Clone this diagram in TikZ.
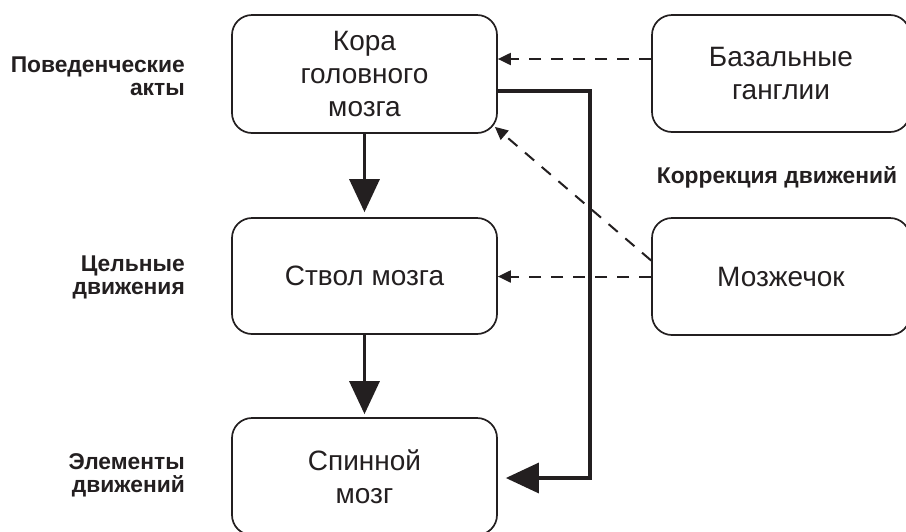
\documentclass[tikz,border=0pt]{standalone}
\usepackage{fontspec}
\setmainfont{Liberation Sans}
\usetikzlibrary{arrows.meta,calc}
\definecolor{ink}{HTML}{231F20}
\begin{document}
\begin{tikzpicture}[x=1pt,y=-1pt,
  box/.style={draw=ink,line width=1.7pt,rounded corners=20pt,minimum width=265pt,minimum height=118pt,align=center,font=\fontsize{28}{33}\selectfont,text=ink,inner sep=0pt},
  lbl/.style={font=\bfseries\fontsize{22.8}{23}\selectfont,align=right,anchor=east,text=ink,inner sep=0pt},
  solidarrow/.style={draw=ink,line width=3.2pt,-{Triangle[length=33pt,width=30pt]}},
  dasharrow/.style={draw=ink,line width=2pt,dash pattern=on 12pt off 10pt,-{Triangle[length=13pt,width=12pt]}}
]
\fill[white] (0,0) rectangle (906,531);
\useasboundingbox (0,0) rectangle (906,531);

\node[box] (kora) at (364.5,74) {Кора\\головного\\мозга};
\node[box,minimum height=116pt] (stvol) at (364.5,276) {Ствол мозга};
\node[box,minimum height=117pt] (spin) at (364.5,476.5) {Спинной\\мозг};
\node[box,minimum width=258pt,minimum height=117pt] (bas) at (781,73.5) {Базальные\\ганглии};
\node[box,minimum width=258pt,minimum height=117pt] (mozh) at (781,276.5) {Мозжечок};

\node[lbl] (l1) at (185,76) {Поведенческие\\акты};
\node[lbl] (l2) at (185,277.5) {Цельные\\движения};
\node[lbl] (l3) at (185,475) {Элементы\\движений};
\node[font=\bfseries\fontsize{22.8}{23}\selectfont,text=ink,inner sep=0pt] (corr) at (777,177) {Коррекция движений};

\coordinate (ky) at (0,59);
\coordinate (t1) at (590,91);
\coordinate (t2) at (590,478);

\draw[solidarrow,shorten >=5pt] (kora.south) -- (stvol.north);
\draw[solidarrow,shorten >=3pt] (stvol.south) -- (spin.north);
\draw[solidarrow,shorten >=8pt,rounded corners=0pt] (kora.east |- t1) -- (t1) -- (t2) -- (spin.east |- t2);

\draw[dasharrow] (bas.west |- ky) -- (kora.east |- ky);
\draw[dasharrow] (mozh.west) -- (stvol.east |- mozh.west);
\draw[dasharrow] ($(mozh.west)+(0,-16)$) -- ($(kora.south east)+(-3,-7)$);
\end{tikzpicture}
\end{document}
